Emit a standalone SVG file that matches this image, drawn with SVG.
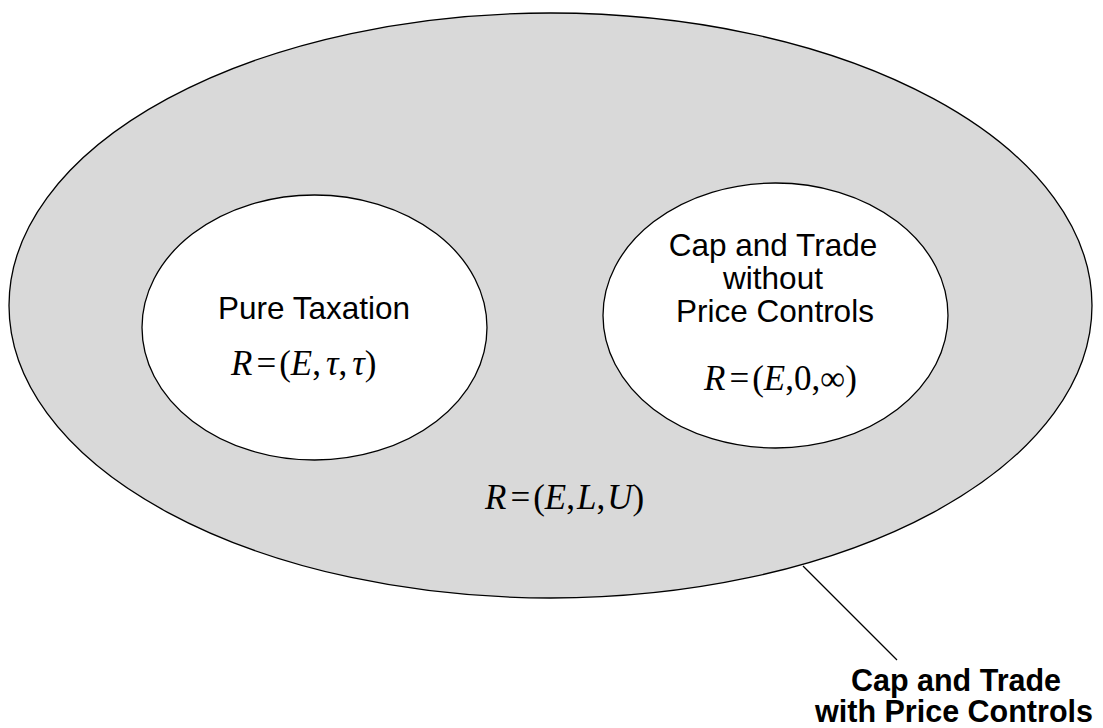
<svg xmlns="http://www.w3.org/2000/svg" width="1103" height="728" viewBox="0 0 1103 728">
<style>
.lbl{font-family:"Liberation Sans",Arial,sans-serif;font-size:31.5px;fill:#000;text-anchor:middle}
.bold{font-weight:bold;font-size:30.5px}
.math{font-family:"Liberation Serif","Times New Roman",serif;font-size:35px;fill:#000}
.i{font-style:italic}
.shape{stroke:#000;stroke-width:1.3}
</style>
<rect width="1103" height="728" fill="#fff"/>
<g id="outer">
<ellipse class="shape" cx="550.5" cy="305.5" rx="541.5" ry="292.5" fill="#d9d9d9"/>
<text class="math" x="485" y="509"><tspan class="i">R</tspan><tspan dx="4">=</tspan><tspan dx="3">(</tspan><tspan class="i">E</tspan>,<tspan class="i" dx="2">L</tspan>,<tspan class="i" dx="2">U</tspan>)</text>
</g>
<g id="pure-taxation">
<ellipse class="shape" cx="314.5" cy="327.5" rx="172.5" ry="132.5" fill="#fff"/>
<text class="lbl" x="314" y="319">Pure Taxation</text>
<text class="math" x="231" y="375"><tspan class="i">R</tspan><tspan dx="4">=</tspan><tspan dx="3">(</tspan><tspan class="i">E</tspan>,<tspan class="i" dx="5">τ</tspan>,<tspan class="i" dx="5">τ</tspan>)</text>
</g>
<g id="cap-trade-without">
<ellipse class="shape" cx="775.5" cy="315.5" rx="172.5" ry="132.5" fill="#fff"/>
<text class="lbl" x="773" y="256">Cap and Trade</text>
<text class="lbl" x="773" y="289">without</text>
<text class="lbl" x="775" y="322">Price Controls</text>
<text class="math" x="704" y="390"><tspan class="i">R</tspan><tspan dx="4">=</tspan><tspan dx="3">(</tspan><tspan class="i">E</tspan>,0,∞)</text>
</g>
<g id="connectors">
<line x1="803" y1="566" x2="897" y2="660" stroke="#000" stroke-width="1.3"/>
</g>
<g id="cap-trade-with">
<text class="lbl bold" x="956" y="691">Cap and Trade</text>
<text class="lbl bold" x="954" y="722">with Price Controls</text>
</g>
</svg>
